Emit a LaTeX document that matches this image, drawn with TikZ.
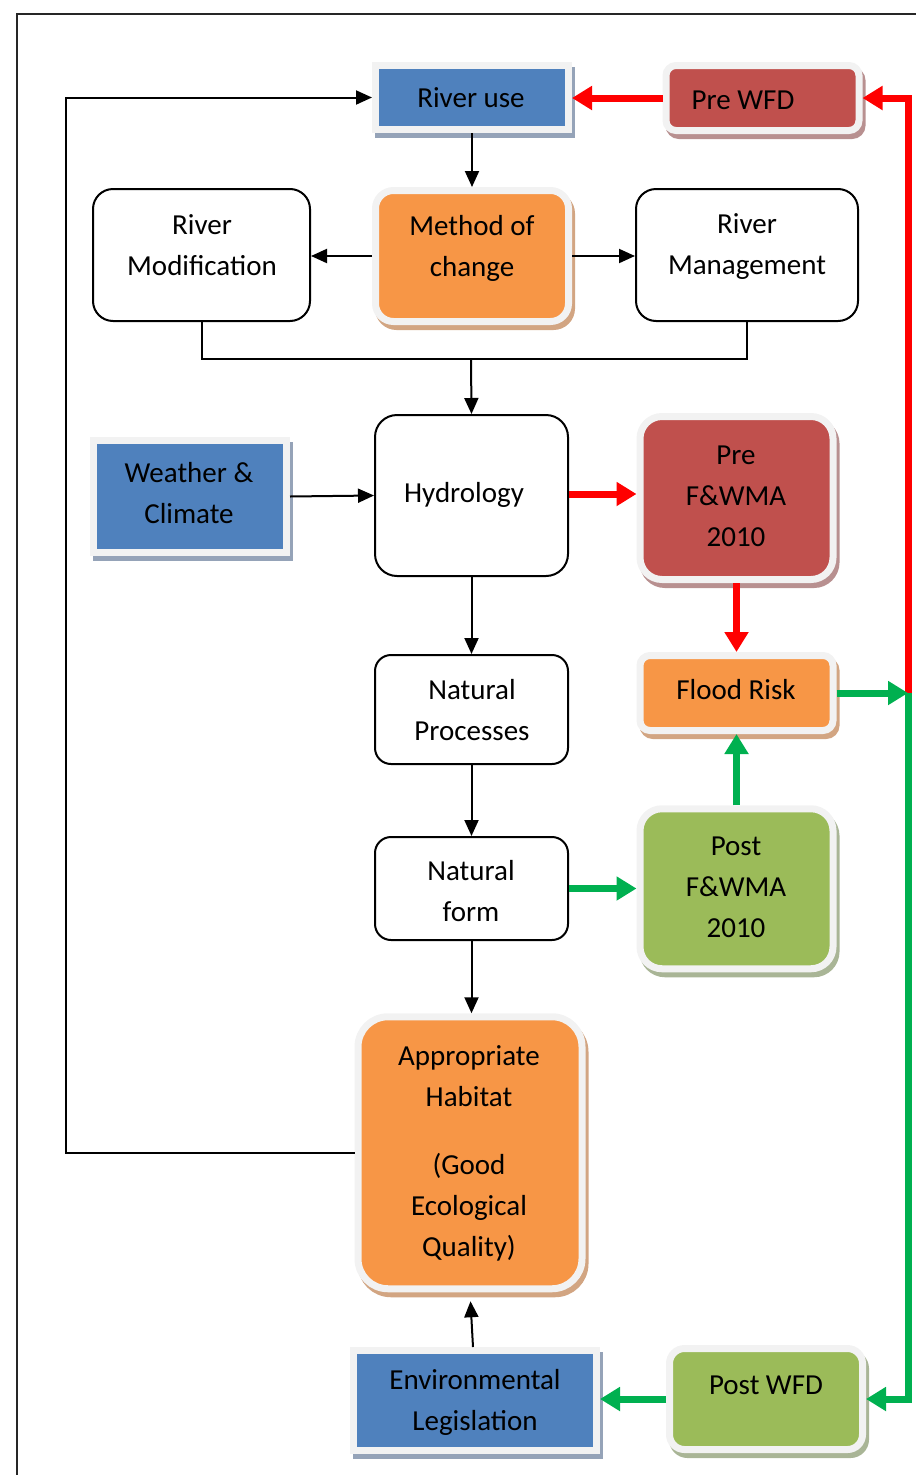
\documentclass[tikz,border=0pt]{standalone}
\usepackage{fontspec}
\setmainfont{Carlito}
\usetikzlibrary{arrows.meta,calc}
\definecolor{cblue}{HTML}{4F81BD}
\definecolor{cred}{HTML}{C0504D}
\definecolor{corange}{HTML}{F79646}
\definecolor{cgreen}{HTML}{9BBB59}
\definecolor{frm}{HTML}{F2F2F2}
\definecolor{shblue}{HTML}{95A3B8}
\definecolor{shred}{HTML}{B89090}
\definecolor{shorange}{HTML}{D2A582}
\definecolor{shgreen}{HTML}{A9B596}
\definecolor{arred}{HTML}{FF0000}
\definecolor{argreen}{HTML}{00B050}
\tikzset{
  fancy/.style 2 args={rectangle, inner sep=0pt, fill=#1, draw=frm, line width=7pt, outer sep=3.5pt,
    preaction={fill=#2, draw=#2, line width=7pt, transform canvas={shift={(3pt,-5pt)}}}},
  plainbox/.style={rectangle, inner sep=0pt, draw=black, line width=2pt, fill=white, rounded corners=20pt},
  txt/.style={align=center, font=\fontsize{29}{41}\selectfont, inner sep=0pt, text=black},
  blk/.style={draw=black, line width=2pt, -{Triangle[width=14pt,length=16pt]}},
  thk/.style={line width=7pt, -{Triangle[width=23pt,length=20pt]}},
}
\begin{document}
\begin{tikzpicture}[x=1pt,y=-1pt]
\useasboundingbox (0,0) rectangle (916,1475);
% frame
\draw[line width=1.6pt, black!85] (17,1475) -- (17,14) -- (916,14);

% boxes
\node[fancy={cblue}{shblue}, minimum width=193pt, minimum height=64pt] (ruse) at (472,97.5) {};
\node[fancy={cred}{shred}, rounded corners=10pt, minimum width=193pt, minimum height=65pt] (prewfd) at (762.5,98) {};
\node[fancy={corange}{shorange}, rounded corners=18pt, minimum width=193pt, minimum height=131pt] (method) at (472,256) {};
\node[plainbox, minimum width=217pt, minimum height=132pt] (rmod) at (201.5,255) {};
\node[plainbox, minimum width=222pt, minimum height=132pt] (rman) at (747,255) {};
\node[fancy={cblue}{shblue}, minimum width=193pt, minimum height=112pt] (weather) at (190,496.5) {};
\node[plainbox, rounded corners=22pt, minimum width=193pt, minimum height=161pt] (hydro) at (471.5,495.5) {};
\node[fancy={cred}{shred}, rounded corners=22pt, minimum width=193pt, minimum height=163pt] (prefw) at (736.5,498) {};
\node[fancy={corange}{shorange}, rounded corners=10pt, minimum width=193pt, minimum height=75pt] (flood) at (736.5,693) {};
\node[plainbox, rounded corners=16pt, minimum width=193pt, minimum height=109pt] (natproc) at (471.5,709.5) {};
\node[plainbox, rounded corners=16pt, minimum width=193pt, minimum height=103pt] (natform) at (471.5,888.5) {};
\node[fancy={cgreen}{shgreen}, rounded corners=22pt, minimum width=193pt, minimum height=160pt] (postfw) at (736.5,888.75) {};
\node[fancy={corange}{shorange}, rounded corners=30pt, minimum width=224pt, minimum height=272pt] (habitat) at (470,1152.75) {};
\node[fancy={cblue}{shblue}, minimum width=243pt, minimum height=100pt] (envleg) at (475,1400.5) {};
\node[fancy={cgreen}{shgreen}, rounded corners=15pt, minimum width=193pt, minimum height=101pt] (postwfd) at (766,1399) {};

% texts
\node[txt] (ruseT) at (471,98) {River use};
\node[txt] (prewfdT) at (743,100) {Pre WFD};
\node[txt] (methodT) at (472,248) {Method of\\change};
\node[txt] (rmodT) at (202,245) {River\\Modification};
\node[txt] (rmanT) at (747,247) {River\\Management};
\node[txt] (weatherT) at (189,493) {Weather \&\\Climate};
\node[txt] (hydroT) at (464,495) {Hydrology};
\node[txt] (prefwT) at (736,496) {Pre\\F\&WMA\\2010};
\node[txt] (floodT) at (736,690) {Flood Risk};
\node[txt] (natprocT) at (472,710) {Natural\\Processes};
\node[txt] (natformT) at (471,891) {Natural\\form};
\node[txt] (postfwT) at (736,887) {Post\\F\&WMA\\2010};
\node[txt] (habitatT) at (469,1153) {Appropriate\\Habitat\\[27pt](Good\\Ecological\\Quality)};
\node[txt] (envlegT) at (475,1402) {Environmental\\Legislation};
\node[txt] (postwfdT) at (766,1385) {Post WFD};

% coordinates
\coordinate (junc) at (471,359);
\coordinate (rj) at (908,693);
\coordinate (rtop) at (908,98);
\coordinate (rbot) at (908,1399);
\coordinate (lbot) at (66,1152.75);
\coordinate (ltop) at (66,97.5);

% black connectors
\draw[blk] (ruse.south) -- (method.north);
\draw[blk] (method.west) -- (method.west -| rmod.east);
\draw[blk] (method.east) -- (method.east -| rman.west);
\draw[draw=black, line width=2pt] (rmod.south) |- (junc) -| (rman.south);
\draw[blk] (junc) -- (hydro.north);
\draw[blk] (weather.east) -- (hydro.west);
\draw[blk] (hydro.south) -- (natproc.north);
\draw[blk] (natproc.south) -- (natform.north);
\draw[blk] (natform.south) -- (natform.south |- habitat.north);
\draw[blk, shorten >=9pt] ([xshift=-2pt]envleg.north) -- (habitat.south);
\draw[blk] (habitat.west) -- (lbot) -- (ltop) -- (ruse.west);

% red connectors
\draw[thk, arred] ([yshift=1.5pt]hydro.east) -- ([yshift=1.5pt]hydro.east -| prefw.west);
\draw[thk, arred] (prefw.south) -- (flood.north);
\draw[thk, arred] (rj) -- (rtop) -- (prewfd.east);
\draw[thk, arred] (prewfd.west) -- (prewfd.west -| ruse.east);

% green connectors
\draw[thk, argreen] (natform.east) -- (natform.east -| postfw.west);
\draw[thk, argreen] (postfw.north) -- (flood.south);
\draw[thk, argreen] (flood.east) -- (rj);
\draw[thk, argreen] (rj) -- (rbot) -- (postwfd.east);
\draw[thk, argreen] (postwfd.west) -- (postwfd.west -| envleg.east);
\end{tikzpicture}
\end{document}
